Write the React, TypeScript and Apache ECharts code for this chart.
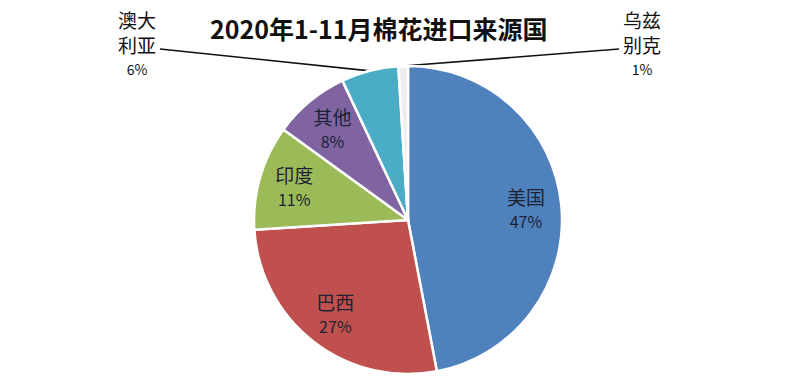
import React, { useEffect, useRef } from 'react';
import * as echarts from 'echarts';

const titleText = '2020年1-11月棉花进口来源国';
const categories = ['美国', '巴西', '印度', '其他', '澳大利亚', '乌兹别克'];
const labelNames = ['美国', '巴西', '印度', '其他', '澳大\n利亚', '乌兹\n别克'];
const shares = [47, 27, 11, 8, 6, 1];
const sliceColors = ['#4F81BD', '#C0504D', '#9BBB59', '#8064A2', '#4BACC6', '#EEEEEE'];
const outsideIdx = [4, 5];

export default function App() {
  const ref = useRef<HTMLDivElement>(null);
  useEffect(() => {
    const chart = echarts.init(ref.current!, null, { renderer: 'svg' });
    const font = '"Noto Sans CJK SC", "Noto Sans", sans-serif';
    const CX = 408, CY = 220, R = 154;
    const outsidePos: Record<number, { x: number; y: number; side: number }> = {
      4: { x: 137, y: 44, side: 1 },
      5: { x: 642, y: 44, side: -1 },
    };
    const total = shares.reduce((a, b) => a + b, 0);
    const midAnchor = (idx: number) => {
      let acc = 0;
      for (let k = 0; k < idx; k++) acc += shares[k];
      const a = ((acc + shares[idx] / 2) / total) * Math.PI * 2;
      return [CX + R * Math.sin(a), CY - R * Math.cos(a)];
    };
    const pieData = categories.map((c, i) => ({
      name: c,
      value: shares[i],
      itemStyle: { color: sliceColors[i] },
      label: { show: outsideIdx.includes(i) },
      labelLine: { show: outsideIdx.includes(i) },
    }));
    const ringData = categories.map((c, i) => ({
      name: c,
      value: shares[i],
      label: { show: !outsideIdx.includes(i) },
    }));
    chart.setOption({
      animation: false,
      backgroundColor: '#ffffff',
      title: {
        text: titleText,
        left: 205,
        top: 10,
        textStyle: { fontFamily: font, fontSize: 25, fontWeight: 'bold', color: '#111' },
      },
      series: [
        {
          type: 'pie',
          center: [CX, CY],
          radius: R,
          startAngle: 90,
          clockwise: true,
          avoidLabelOverlap: false,
          silent: true,
          emphasis: { disabled: true },
          itemStyle: { borderColor: '#ffffff', borderWidth: 2.5 },
          label: {
            position: 'outside',
            fontFamily: font,
            formatter: (p: any) =>
              labelNames[p.dataIndex].split('\n').map((s) => `{n|${s}}`).join('\n') + `\n{p|${Math.round(p.percent)}%}`,
            rich: {
              n: { fontFamily: font, fontSize: 19, lineHeight: 25, color: '#111' },
              p: { fontFamily: font, fontSize: 14, lineHeight: 25, color: '#111' },
            },
          },
          labelLine: { lineStyle: { color: '#111', width: 1.6 } },
          labelLayout: (params: any) => {
            const pos = outsidePos[params.dataIndex];
            if (!pos) return {};
            const w = params.labelRect.width;
            const p0 = midAnchor(params.dataIndex);
            const endX = pos.x + pos.side * (w / 2 + 4);
            return {
              x: pos.x,
              y: pos.y,
              align: 'center',
              verticalAlign: 'middle',
              labelLinePoints: [p0, [endX, pos.y + 5]],
            };
          },
          data: pieData,
        },
        {
          type: 'pie',
          center: [CX, CY],
          radius: [R / 2, R],
          startAngle: 90,
          clockwise: true,
          avoidLabelOverlap: false,
          silent: true,
          emphasis: { disabled: true },
          itemStyle: { color: 'rgba(0,0,0,0)', borderWidth: 0 },
          label: {
            position: 'inside',
            formatter: (p: any) => `{n|${labelNames[p.dataIndex]}}\n{p|${Math.round(p.percent)}%}`,
            rich: {
              n: { fontFamily: font, fontSize: 19, lineHeight: 24, color: '#1c2233' },
              p: { fontFamily: font, fontSize: 16, lineHeight: 24, color: '#1c2233' },
            },
          },
          labelLine: { show: false },
          data: ringData,
        },
      ],
    });
    return () => chart.dispose();
  }, []);
  return (
    <div
      ref={ref}
      style={{ position: 'absolute', left: 0, top: 0, width: 800, height: 385, background: '#fff' }}
    />
  );
}
